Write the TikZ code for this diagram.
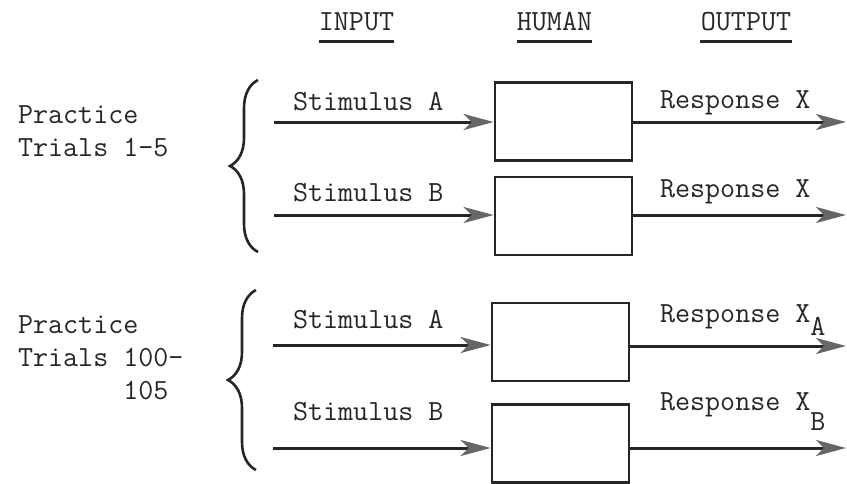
\documentclass[tikz,border=0pt]{standalone}
\usetikzlibrary{arrows.meta,decorations.pathreplacing}

\begin{document}
\begin{tikzpicture}[x=0.5pt,y=-0.5pt,
  every node/.style={font=\ttfamily\fontsize{14.6}{16.5}\selectfont, text=black!85},
  heading/.style={inner xsep=0pt, inner ysep=5pt},
  human/.style={draw=black!85, line width=1.4pt, minimum width=68.5pt, minimum height=39pt, inner sep=0pt},
  flow/.style={draw=black!85, line width=1.5pt, -{Stealth[length=15pt,width=8pt,inset=4pt,color=black!60]}},
  curly/.style={draw=black!85, line width=1.3pt, decorate, decoration={brace, amplitude=14pt}}]
  \useasboundingbox (0,0) rectangle (847,483);

  % column headings, typed and underlined
  \node[heading] (hin)  at (356.5,22) {INPUT};
  \node[heading] (hhum) at (554.5,22) {HUMAN};
  \node[heading] (hout) at (746,22)   {OUTPUT};
  \foreach \h in {hin,hhum,hout}
    \draw[line width=1.4pt, black!85] (\h.south west) -- (\h.south east);

  % trial groups on the left
  \node[anchor=west, align=left] (early) at (11,131.5) {Practice\\Trials 1-5};
  \node[anchor=west, align=left] (late)  at (11,358)   {Practice\\Trials 100-\\\phantom{Trials\ }105};
  \draw[curly] (258,252) -- (258,80);
  \draw[curly] (256,470) -- (256,290);

  % the subject, one box per stimulus
  \node[human] (box1) at (563.5,121.5) {};
  \node[human] (box2) at (563.5,216)   {};
  \node[human] (box3) at (560.5,342)   {};
  \node[human] (box4) at (560.5,443.5) {};

  % input ends and output ends
  \coordinate (in1) at (274,122);  \coordinate (out1) at (846,122);
  \coordinate (in2) at (274,215);  \coordinate (out2) at (846,215);
  \coordinate (in3) at (273,345);  \coordinate (out3) at (846,346);
  \coordinate (in4) at (273,448);  \coordinate (out4) at (846,448);

  \foreach \i in {1,...,4} {
    \draw[flow] (in\i) -- (in\i -| box\i.west);
    \draw[flow] (box\i.east |- out\i) -- (out\i);
  }

  % stimulus and response labels
  \node[anchor=west] (sA1) at (286,102) {Stimulus A};
  \node[anchor=west] (sB1) at (286,193) {Stimulus B};
  \node[anchor=west] (sA2) at (286,320) {Stimulus A};
  \node[anchor=west] (sB2) at (286,412) {Stimulus B};
  \node[anchor=west] (rX1) at (653,103) {Response X};
  \node[anchor=west] (rX2) at (653,192) {Response X};
  \node[anchor=west] (rA)  at (653,320) {Response X\raisebox{-6.5pt}{A}};
  \node[anchor=west] (rB)  at (653,412) {Response X\raisebox{-10pt}{B}};
\end{tikzpicture}
\end{document}
